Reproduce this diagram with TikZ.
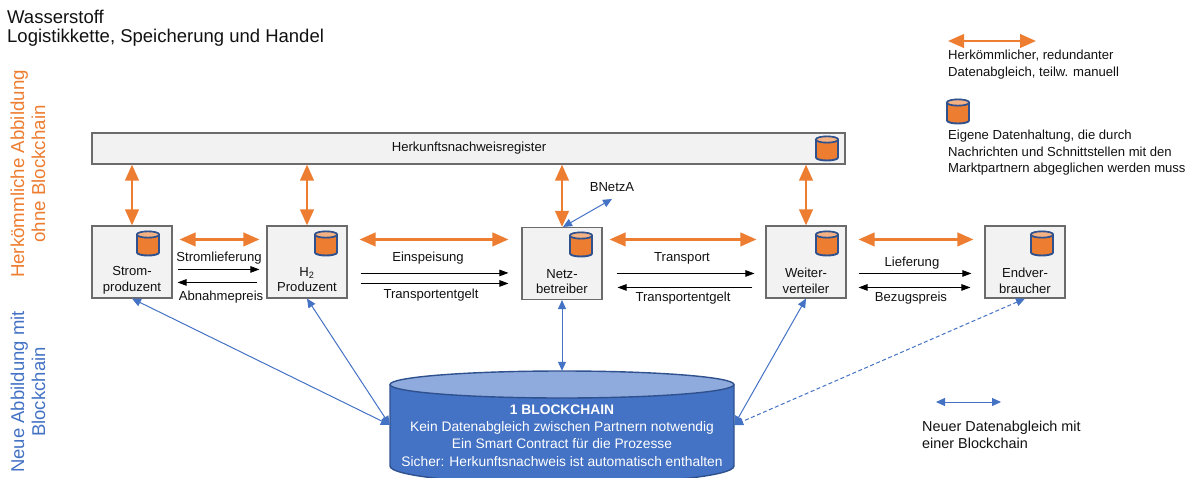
\documentclass[tikz,border=0pt]{standalone}
\usepackage{fontspec}
\setmainfont{Liberation Sans}
\usetikzlibrary{arrows.meta}
\definecolor{og}{HTML}{ED7D31}
\definecolor{bl}{HTML}{4472C4}
\definecolor{dbl}{HTML}{2F528F}
\definecolor{lbl}{HTML}{8FAADC}
\definecolor{lor}{HTML}{F4B183}
\definecolor{bx}{HTML}{F2F2F2}
\definecolor{bd}{HTML}{6B6B6B}
\definecolor{tx}{HTML}{111111}
\tikzset{
  actor/.style={draw=bd,fill=bx,line width=1.1pt,minimum width=80pt,minimum height=72pt,inner sep=0pt},
  reg/.style={draw=bd,fill=bx,line width=1.1pt,minimum width=753pt,minimum height=31pt,inner sep=0pt},
  txt/.style={text=tx,font=\fontsize{13.1}{15.5}\selectfont,inner sep=0pt,align=center},
  ltxt/.style={text=tx,font=\fontsize{13.1}{16.4}\selectfont,inner sep=0pt,align=left,anchor=north west},
  oarrow/.style={draw=og,line width=2.4pt,{Triangle[length=16pt,width=13.5pt]}-{Triangle[length=16pt,width=13.5pt]}},
  barrow/.style={draw=black,line width=0.8pt,-{Triangle[length=9pt,width=6.5pt]}},
  barrowb/.style={draw=black,line width=0.8pt,{Triangle[length=9pt,width=6.5pt]}-{Triangle[length=9pt,width=6.5pt]}},
  bluearrow/.style={draw=bl,line width=1pt,{Triangle[length=9pt,width=8pt]}-{Triangle[length=9pt,width=8pt]}},
}
\newcommand{\dbicon}[2]{%
  \begin{scope}[shift={(#1,#2)}]
    \draw[draw=dbl,fill=og,line width=1.9pt] (0,3.5) -- (0,21.5) arc[start angle=180,end angle=360,x radius=11pt,y radius=3pt] -- (22,3.5) arc[start angle=0,end angle=360,x radius=11pt,y radius=3pt];
    \draw[draw=dbl,fill=lor,line width=1.4pt] (11,3.5) ellipse[x radius=11pt,y radius=3pt];
  \end{scope}}
\begin{document}
\begin{tikzpicture}[x=1pt,y=-1pt]
\useasboundingbox (0,0) rectangle (1193,477);

% title
\node[anchor=west,inner sep=0pt,text=tx,font=\fontsize{18.5}{22}\selectfont] (t1) at (7,17) {Wasserstoff};
\node[anchor=west,inner sep=0pt,text=tx,font=\fontsize{18.5}{22}\selectfont] (t2) at (7,38) {Logistikkette, Speicherung und Handel};

% side labels
\node[rotate=90,text=og,font=\fontsize{18.7}{21}\selectfont,align=center,inner sep=0pt] (s1) at (28,174) {Herkömmliche Abbildung\\ohne Blockchain};
\node[rotate=90,text=bl,font=\fontsize{18.5}{21}\selectfont,align=center,inner sep=0pt] (s2) at (28,392) {Neue Abbildung mit\\Blockchain};

% register and actors
\node[reg] (reg) at (468.5,148.5) {};
\node[txt] (regl) at (469,148.5) {Herkunftsnachweisregister};
\node[actor] (strom) at (132,262) {};
\node[actor] (h2) at (307,262) {};
\node[actor] (netz) at (562,263.5) {};
\node[actor] (weiter) at (806,262) {};
\node[actor] (end) at (1025,262) {};

\node[txt] (l1) at (132,280.5) {Strom-\\produzent};
\node[txt] (l2) at (307,279.5) {H\textsubscript{2}\\Produzent};
\node[txt] (l3) at (562,281.5) {Netz-\\betreiber};
\node[txt] (l4) at (806,281) {Weiter-\\verteiler};
\node[txt] (l5) at (1025,281) {Endver-\\braucher};

\dbicon{137}{231}
\dbicon{315}{231}
\dbicon{570}{232}
\dbicon{816}{231}
\dbicon{1031}{231}
\dbicon{816}{136}

% blockchain
\fill[bl] (390,385) -- (390,466) arc[start angle=180,end angle=360,x radius=172pt,y radius=18pt] -- (734,385) -- cycle;
\draw[dbl,line width=1.4pt] (390,385) -- (390,466) arc[start angle=180,end angle=360,x radius=172pt,y radius=18pt] -- (734,385);
\draw[draw=dbl,fill=lbl,line width=1.4pt] (562,384.5) ellipse[x radius=172pt,y radius=13.5pt];
\node[minimum width=344pt,minimum height=108pt,inner sep=0pt] (bc) at (562,425) {};
\node[text=white,font=\fontsize{13.8}{17.3}\selectfont,align=center,inner sep=0pt,anchor=north] (bct) at (562,404.5) {\textbf{1 BLOCKCHAIN}\\Kein Datenabgleich zwischen Partnern notwendig\\Ein Smart Contract für die Prozesse\\Sicher: Herkunftsnachweis ist automatisch enthalten};

% vertical orange
\draw[oarrow] (strom.north) -- (strom.north |- reg.south);
\draw[oarrow] (h2.north) -- (h2.north |- reg.south);
\draw[oarrow] (netz.north) -- (netz.north |- reg.south);
\draw[oarrow] (weiter.north) -- (weiter.north |- reg.south);

% horizontal orange
\draw[oarrow] ([xshift=7pt,yshift=-14pt]strom.north east) -- ([xshift=-7pt,yshift=-14pt]h2.north west);
\draw[oarrow] ([xshift=12pt,yshift=-14pt]h2.north east) -- ([xshift=-13pt,yshift=-14pt]h2.north east -| netz.west);
\draw[oarrow] ([xshift=7pt,yshift=-14pt]h2.north east -| netz.east) -- ([xshift=-9pt,yshift=-14pt]h2.north east -| weiter.west);
\draw[oarrow] ([xshift=12pt,yshift=-14pt]weiter.north east) -- ([xshift=-11pt,yshift=-14pt]end.north west);

% black
\draw[barrow] ([xshift=5pt,yshift=-44pt]strom.north east) -- ([xshift=-7pt,yshift=-44pt]h2.north west);
\draw[barrow] ([xshift=-9pt,yshift=-57pt]h2.north west) -- ([xshift=5pt,yshift=-57pt]strom.north east);
\draw[barrow] ([xshift=13pt,yshift=-47.5pt]h2.north east) -- ([xshift=-13pt,yshift=-47.5pt]h2.north east -| netz.west);
\draw[barrow] ([xshift=13pt,yshift=-58pt]h2.north east) -- ([xshift=-13pt,yshift=-58pt]h2.north east -| netz.west);
\draw[barrow] ([xshift=14pt,yshift=-48pt]h2.north east -| netz.east) -- ([xshift=-11pt,yshift=-48pt]h2.north east -| weiter.west);
\draw[barrow] ([xshift=-13pt,yshift=-62pt]h2.north east -| weiter.west) -- ([xshift=15pt,yshift=-62pt]h2.north east -| netz.east);
\draw[barrow] ([xshift=12pt,yshift=-48pt]weiter.north east) -- ([xshift=-13pt,yshift=-48pt]end.north west);
\draw[barrowb] ([xshift=12pt,yshift=-62pt]weiter.north east) -- ([xshift=-14pt,yshift=-62pt]end.north west);

% arrow labels
\node[txt] (a1) at (219,258) {Stromlieferung};
\node[txt] (a2) at (221,297) {Abnahmepreis};
\node[txt] (a3) at (428,258) {Einspeisung};
\node[txt] (a4) at (431,295) {Transportentgelt};
\node[txt] (a5) at (682,258.5) {Transport};
\node[txt] (a6) at (683,298) {Transportentgelt};
\node[txt] (a7) at (912,263) {Lieferung};
\node[txt] (a8) at (911,298) {Bezugspreis};
\node[txt] (bn) at (612,187) {BNetzA};
\coordinate (bnp) at (612,199);

% blue
\draw[bluearrow] ([xshift=1pt]netz.north) -- (bnp);
\draw[bluearrow] (strom.south) -- (bc.west);
\draw[bluearrow] (h2.south) -- (bc.west);
\draw[bluearrow] (netz.south) -- (bc.north);
\draw[bluearrow] (weiter.south) -- (bc.east);
\draw[bluearrow,dash pattern=on 4pt off 2.5pt] (end.south) -- (bc.east);

% legend
\coordinate (lg1a) at (948,41);
\coordinate (lg1b) at (1036,41);
\draw[oarrow] (lg1a) -- (lg1b);
\node[ltxt] (lg1) at (948,50) {Herkömmlicher, redundanter\\Datenabgleich, teilw. manuell};
\dbicon{947}{99}
\node[ltxt] (lg2) at (948,130) {Eigene Datenhaltung, die durch\\Nachrichten und Schnittstellen mit den\\Marktpartnern abgeglichen werden muss};
\coordinate (lg3a) at (936,402);
\coordinate (lg3b) at (1001,402);
\draw[bluearrow] (lg3a) -- (lg3b);
\node[ltxt,font=\fontsize{14.4}{16.4}\selectfont] (lg3) at (922,421) {Neuer Datenabgleich mit\\einer Blockchain};
\end{tikzpicture}
\end{document}
